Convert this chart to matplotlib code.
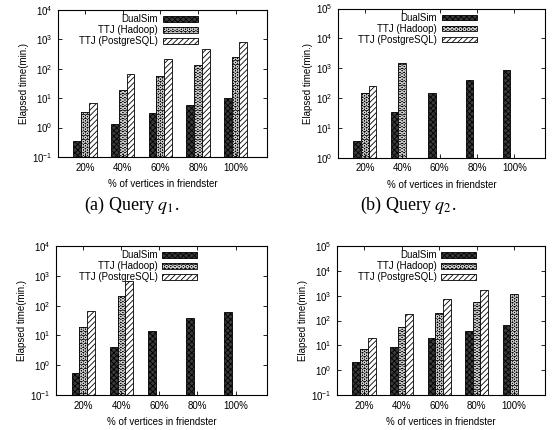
import numpy as np
import matplotlib
matplotlib.use('Agg')
import matplotlib.pyplot as plt
from matplotlib.ticker import LogLocator, NullLocator

plt.rcParams['font.family'] = ['Liberation Sans', 'DejaVu Sans']
plt.rcParams['mathtext.fontset'] = 'stix'
plt.rcParams['hatch.linewidth'] = 0.6

nan = np.nan
categories = ['20%', '40%', '60%', '80%', '100%']
series_names = ['DualSim', 'TTJ (Hadoop)', 'TTJ (PostgreSQL)']

q1_dualsim = [0.34, 1.35, 3.1, 5.9, 10]
q1_hadoop = [3.4, 19, 57, 135, 250]
q1_postgres = [7.1, 66, 209, 457, 830]

q2_dualsim = [3.7, 34, 148, 420, 850]
q2_hadoop = [150, 1450, nan, nan, nan]
q2_postgres = [260, nan, nan, nan, nan]

q3_dualsim = [0.56, 4, 14.4, 37, 63]
q3_hadoop = [19.5, 209, nan, nan, nan]
q3_postgres = [68, 690, nan, nan, nan]

q4_dualsim = [2.2, 8.9, 19, 39, 66]
q4_hadoop = [6.9, 53, 208, 540, 1170]
q4_postgres = [19, 178, 710, 1690, nan]

panels = [
    ([0.104, 0.635, 0.375, 0.342], (0.1, 1e4), (q1_dualsim, q1_hadoop, q1_postgres)),
    ([0.607, 0.633, 0.372, 0.347], (1, 1e5), (q2_dualsim, q2_hadoop, q2_postgres)),
    ([0.1005, 0.0814, 0.379, 0.3465], (0.1, 1e4), (q3_dualsim, q3_hadoop, q3_postgres)),
    ([0.605, 0.0814, 0.374, 0.3465], (0.1, 1e5), (q4_dualsim, q4_hadoop, q4_postgres)),
]

fig = plt.figure(figsize=(5.57, 4.30), dpi=100)
x = np.arange(len(categories))
w = 0.205

for rect, ylim, (ds, hd, pg) in panels:
    ax = fig.add_axes(rect)
    ax.set_yscale('log')
    b1 = ax.bar(x - w, ds, w, facecolor='#3a3a3a', edgecolor='black',
                hatch='xxxxxx', linewidth=0.6)
    # hadoop: light rings on black, outline drawn on top
    b2f = ax.bar(x, hd, w, facecolor='black', edgecolor='#c8c8c8',
                 hatch='OOOO', linewidth=0)
    b2e = ax.bar(x, hd, w, facecolor='none', edgecolor='black', linewidth=0.6)
    b3 = ax.bar(x + w, pg, w, facecolor='white', edgecolor='black',
                hatch='//////', linewidth=0.6)
    ax.set_ylim(*ylim)
    ax.set_xlim(-0.72, 4.83)
    ax.set_xticks(x)
    ax.set_xticklabels(categories)
    ax.yaxis.set_major_locator(LogLocator(base=10, numticks=10))
    ax.yaxis.set_minor_locator(NullLocator())
    ax.tick_params(direction='in', top=True, right=True, labelsize=7,
                   length=3, width=0.6, pad=4)
    for s in ax.spines.values():
        s.set_linewidth(0.8)
    ax.set_xlabel('% of vertices in friendster', fontsize=7, labelpad=5)
    ax.set_ylabel('Elapsed time(min.)', fontsize=7, labelpad=2)
    leg = ax.legend([b1[0], (b2f[0], b2e[0]), b3[0]], series_names,
                    loc='upper right', bbox_to_anchor=(0.69, 1.0),
                    frameon=False, fontsize=7, markerfirst=False,
                    handlelength=3.6, handleheight=0.5, handletextpad=0.5,
                    labelspacing=0.1, borderpad=0.15, borderaxespad=0.3)
    for t in leg.get_texts():
        t.set_ha('right')

fig.text(0.237, 0.523, '(a) Query $q_1$.', fontsize=13,
         family='Liberation Serif', ha='center', va='center')
fig.text(0.733, 0.523, '(b) Query $q_2$.', fontsize=13,
         family='Liberation Serif', ha='center', va='center')

fig.savefig('out.png', dpi=100)
